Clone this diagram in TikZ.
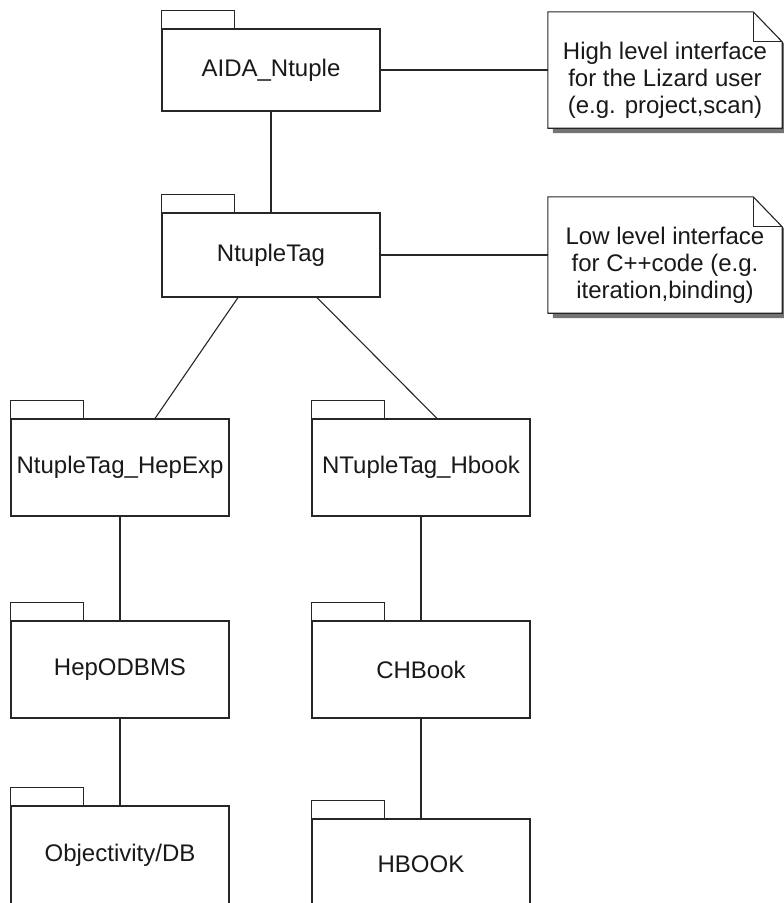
\documentclass[tikz,border=0pt]{standalone}
\usepackage{fontspec}
\setmainfont{Liberation Sans}
\usetikzlibrary{positioning,backgrounds}

\begin{document}
\begin{tikzpicture}[x=1pt, y=-1pt,
  pkg/.style={draw=black!85, line width=1.1pt, fill=white, minimum width=218pt, minimum height=#1, inner sep=0pt, font=\fontsize{24}{27}\selectfont, text=black!90},
  pkg/.default=97pt,
  tab/.style={draw=black!85, line width=1.1pt},
  note/.style={minimum width=234pt, minimum height=116pt, inner sep=0pt},
  notetxt/.style={align=center, font=\fontsize{24}{27}\selectfont, text=black!90, yshift=-10pt},
  link/.style={draw=black!85, line width=1.1pt}]
\useasboundingbox (0,0) rectangle (784,903);
% packages
\node[pkg=82pt] (aida)   at (271,70)    {AIDA\_Ntuple};
\node[pkg=84pt] (tag)    at (271,255)   {NtupleTag};
\node[pkg]      (hepexp) at (120,467.5) {NtupleTag\_HepExp};
\node[pkg]      (hbook)  at (421,467.5) {NTupleTag\_Hbook};
\node[pkg]      (odbms)  at (120,669.5) {HepODBMS};
\node[pkg]      (chbook) at (421,669.5) {CHBook};
\node[pkg=99pt] (objy)   at (120,855.5) {Objectivity/DB};
\node[pkg=90pt] (hbk)    at (421,864)   {HBOOK};
\foreach \n in {aida,tag,hepexp,hbook,odbms,chbook,objy,hbk}
  \draw[tab] (\n.north west) rectangle ++(73,-18);
% notes
\node[note, label={[notetxt]center:High level interface\\for the Lizard user\\(e.g. project,scan)}] (hi) at (665,70) {};
\node[note, label={[notetxt]center:Low level interface\\for C++code (e.g.\\iteration,binding)}] (lo) at (665,255) {};
\begin{scope}[on background layer]
  \foreach \n in {hi,lo} {
    \begin{scope}[transform canvas={shift={(5pt,-5pt)}}]
      \fill[black!55] (\n.north west) -- ([xshift=-29pt]\n.north east) -- ([yshift=-30pt]\n.north east) -- (\n.south east) -- (\n.south west) -- cycle;
    \end{scope}
    \draw[link, fill=white] (\n.north west) -- ([xshift=-29pt]\n.north east) -- ([yshift=-30pt]\n.north east) -- (\n.south east) -- (\n.south west) -- cycle;
    \draw[link] ([xshift=-29pt]\n.north east) |- ([yshift=-30pt]\n.north east);
  }
\end{scope}
% connectors
\draw[link] (aida) -- (hi);
\draw[link] (tag) -- (lo);
\draw[link] (aida) -- (tag);
\draw[link] ([xshift=-33pt]tag.south) -- ([xshift=35pt]hepexp.north);
\draw[link] ([xshift=46pt]tag.south) -- ([xshift=16pt]hbook.north);
\draw[link] (hepexp) -- (odbms);
\draw[link] (hbook) -- (chbook);
\draw[link] (odbms) -- (objy);
\draw[link] (chbook) -- (hbk);
\end{tikzpicture}
\end{document}
